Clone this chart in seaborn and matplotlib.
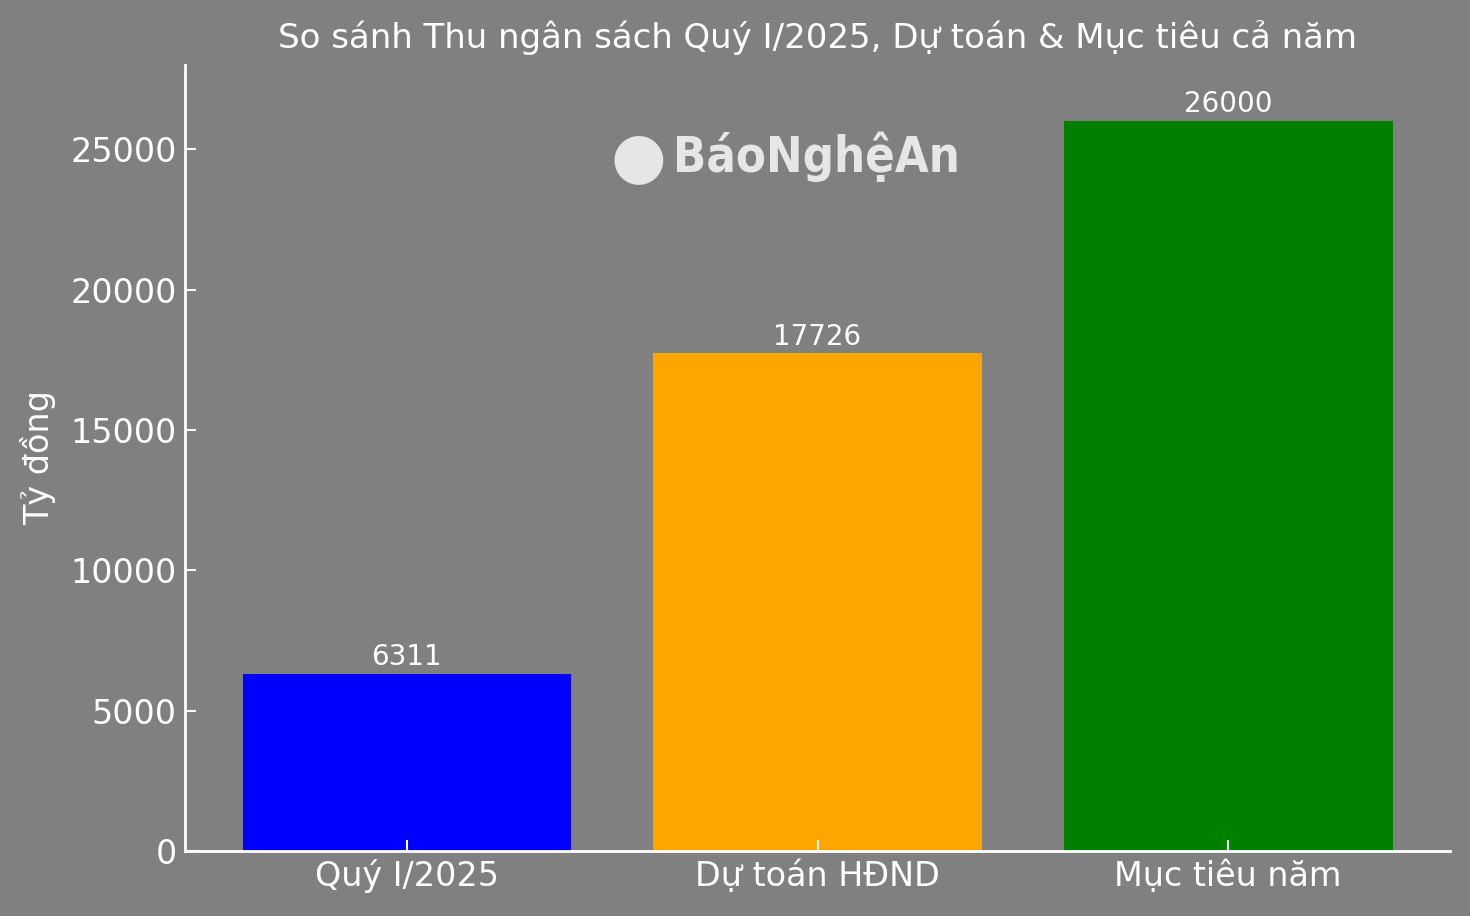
import matplotlib
matplotlib.use("Agg")
import matplotlib.pyplot as plt
import seaborn as sns
import pandas as pd

categories = ["Quý I/2025", "Dự toán HĐND", "Mục tiêu năm"]
values = [6311, 17726, 26000]
colors = ["#0000ff", "#ffa500", "#008000"]
yticks = [0, 5000, 10000, 15000, 20000, 25000]

sns.set_style("dark", {"xtick.bottom": True, "ytick.left": True})
plt.rcParams['font.family'] = ['DejaVu Sans']
bg = "#808080"
fg = "white"

fig = plt.figure(figsize=(14.7, 9.16), dpi=100, facecolor=bg)
ax = fig.add_axes([0.1259, 0.071, 0.8605, 0.858])
ax.set_facecolor(bg)

df = pd.DataFrame({"cat": categories, "val": values})
sns.barplot(data=df, x="cat", y="val", hue="cat", palette=colors,
            legend=False, ax=ax, width=0.8, saturation=1, linewidth=0,
            edgecolor="none")

for c in ax.containers:
    ax.bar_label(c, fmt="%d", color=fg, fontsize=20, padding=2)

ax.set_xlim(-0.54, 2.54)
ax.set_ylim(0, 28000)
ax.set_yticks(yticks)
ax.set_xlabel("")
ax.set_ylabel("Tỷ đồng", color=fg, fontsize=24, labelpad=10)
ax.set_title("So sánh Thu ngân sách Quý I/2025, Dự toán & Mục tiêu cả năm",
             color=fg, fontsize=24.5, pad=12)
ax.set_axisbelow(False)
ax.tick_params(axis="both", colors=fg, labelsize=24, direction="in",
               length=8, width=1.5, pad=6)
ax.grid(False)
for s in ["top", "right"]:
    ax.spines[s].set_visible(False)
for s in ["left", "bottom"]:
    ax.spines[s].set_color(fg)
    ax.spines[s].set_linewidth(2)

# watermark
fig.text(0.434, 0.827, "●", color="#e6e6e6", fontsize=46, ha="center", va="center")
fig.text(0.458, 0.829, "BáoNghệAn", color="#e6e6e6", fontsize=35,
         fontweight="bold", fontstretch="condensed", ha="left", va="center")

fig.savefig("out.png", dpi=100, facecolor=bg)
